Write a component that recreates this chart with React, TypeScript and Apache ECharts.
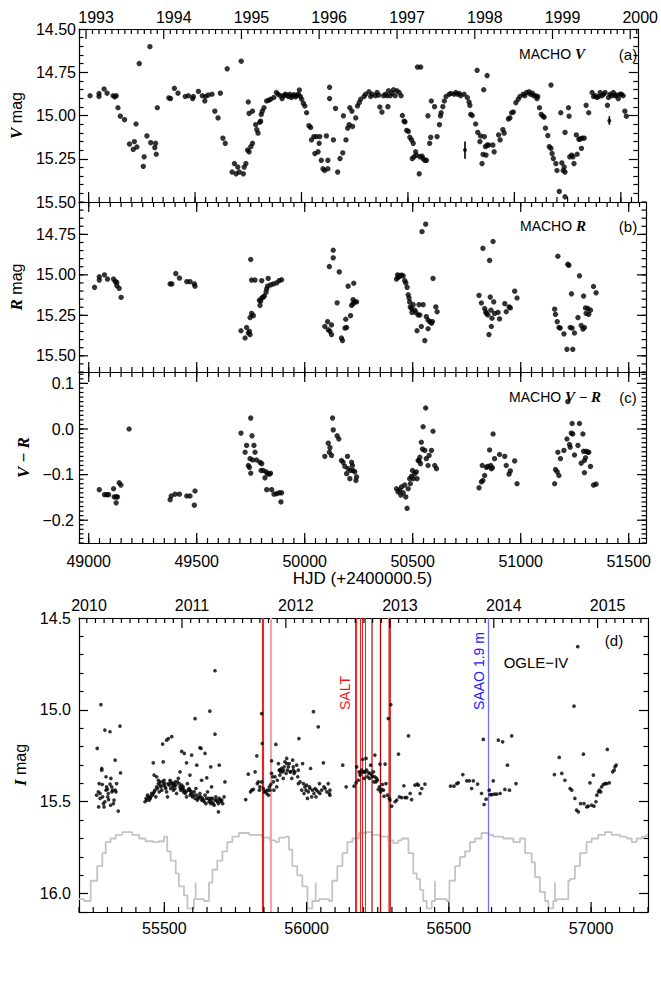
import React, { useEffect, useRef } from 'react';
import * as echarts from 'echarts';

// ---------------- DATA ----------------
// MACHO V light curve: [MJD, V mag]
const MACHO_V: [number, number][] = [
  [49007,14.886],[49049,14.873],[49049,14.890],[49073,14.847],[49087,14.871],[49115,14.886],[49123,14.892],[49130,14.886],
  [49138,14.955],[49149,15.004],[49169,15.024],[49192,15.165],[49210,15.196],[49215,15.151],[49227,15.182],[49223,15.049],
  [49238,14.700],[49261,15.239],[49257,15.294],[49274,15.118],[49288,14.602],[49292,15.157],[49311,15.186],[49315,15.161],
  [49318,15.224],[49323,14.955],
  [49377,14.898],[49385,14.902],[49403,14.843],[49420,14.871],[49454,14.890],[49469,14.886],[49489,14.902],[49492,14.890],
  [49516,14.861],[49534,14.886],[49546,14.916],[49549,14.890],[49562,14.882],[49580,14.877],[49593,14.975],[49608,15.014],
  [49619,14.871],[49631,15.131],[49642,15.161],[49651,14.730],[49674,15.327],[49685,15.278],[49693,15.337],[49701,15.298],
  [49708,15.327],[49717,14.686],[49727,15.337],[49731,15.298],[49739,15.278],[49747,15.200],[49754,15.210],[49762,15.180],
  [49770,15.161],[49750,14.922],[49754,14.988],[49770,14.975],[49785,15.053],[49790,15.082],[49796,15.102],[49804,15.039],
  [49808,15.033],[49816,14.975],[49811,14.994],[49824,14.955],[49836,14.916],[49847,14.912],[49855,14.906],[49870,14.896],
  [49882,14.867],[49890,14.877],[49901,14.886],[49909,14.902],[49916,14.886],[49924,14.877],[49930,14.882],[49938,14.890],
  [49945,14.877],[49952,14.896],[49958,14.886],[49965,14.880],[49972,14.892],[49978,14.884],[49985,14.878],[49990,14.853],
  [49995,14.890],[50001,14.906],[50009,14.930],[50016,14.945],[50024,14.984],[50035,15.059],[50043,15.069],[50047,15.141],
  [50058,15.122],[50063,15.220],[50070,15.122],[50078,15.210],[50083,15.161],[50086,15.122],[50093,15.259],[50101,15.308],
  [50109,15.318],
  [50117,15.118],[50124,15.259],[50124,15.308],[50132,14.837],[50132,14.902],[50150,15.141],[50160,14.959],[50170,15.327],
  [50181,15.249],[50194,15.216],[50197,15.002],[50209,15.141],[50217,15.073],[50224,15.053],[50227,14.955],[50237,14.975],
  [50240,15.063],[50255,15.014],[50263,14.945],[50271,14.926],[50278,14.906],[50294,14.890],[50301,14.877],[50317,14.863],
  [50325,14.890],[50332,14.877],[50348,14.886],[50355,14.867],[50363,14.882],[50368,14.951],[50378,14.980],[50386,14.886],
  [50394,14.877],[50402,14.886],[50406,14.949],[50409,14.857],[50417,14.886],[50425,14.871],[50432,14.851],[50440,14.886],
  [50448,14.857],[50459,14.867],[50468,14.886],[50474,15.000],[50482,15.033],[50486,15.037],[50494,15.086],[50502,15.092],
  [50509,15.126],[50517,15.141],[50520,15.249],[50525,15.161],[50529,15.239],[50536,15.210],[50540,15.229],[50545,14.720],
  [50560,14.720],[50553,15.337],[50556,15.239],[50566,15.235],[50571,15.249],[50579,15.259],[50587,15.259],[50594,15.002],
  [50602,15.161],[50607,15.126],[50610,14.916],[50625,14.949],[50637,15.122],[50648,15.053],[50653,15.002],[50656,14.984],
  [50664,14.949],[50671,14.916],[50679,14.890],[50694,14.877],[50702,14.873],[50717,14.877],[50725,14.867],[50733,14.877],
  [50741,14.873],[50748,14.886],[50764,14.877],[50779,14.896],[50787,14.922],[50791,14.941],[50795,14.994],[50802,15.000],
  [50818,15.049],[50825,14.739],[50828,15.098],[50838,15.151],[50841,15.118],[50848,15.278],[50853,15.225],[50856,14.851],
  [50859,15.122],[50864,15.180],[50867,15.229],[50872,14.769],[50872,15.171],[50879,15.171],[50899,15.171],[50905,15.210],
  [50926,15.112],[50933,15.141],[50946,15.082],[50952,15.102],[50972,15.020],[50979,15.014],[50987,14.984],[50995,14.980],
  [51007,14.926],[51018,14.906],[51026,14.890],[51041,14.877],[51049,14.886],[51057,14.867],[51069,14.863],[51075,14.877],
  [51084,14.871],[51090,14.886],[51100,14.886],[51106,14.902],[51110,14.890],[51118,14.955],[51126,14.994],[51134,15.004],
  [51140,15.010],[51146,15.073],[51157,15.116],[51164,15.180],[51172,14.824],[51172,15.190],[51177,15.220],[51183,15.249],
  [51195,15.278],[51200,15.318],[51211,15.439],[51218,14.984],[51223,15.274],[51229,15.318],[51234,15.298],[51238,15.098],
  [51238,15.327],[51238,15.470],[51254,14.955],[51257,15.004],[51260,15.239],[51269,15.229],[51275,15.239],[51280,15.278],
  [51291,15.112],[51295,15.224],[51303,15.137],[51308,15.137],[51315,15.190],[51318,15.131],[51328,15.131],[51337,14.941],
  [51349,14.984],
  [51365,14.867],[51372,14.890],[51380,14.886],[51388,14.896],[51396,14.890],[51403,14.867],[51411,14.886],[51419,14.877],
  [51426,14.867],[51437,14.941],[51442,14.896],[51449,14.877],[51457,14.886],[51465,14.867],[51473,14.886],[51480,14.882],
  [51488,14.902],[51496,14.877],[51503,14.877],[51511,14.886],[51519,14.975],[51526,15.004],
];
// sample error bars in panel (a): [MJD, mag, low, high]
const MACHO_V_ERR: [number, number, number, number][] = [
  [50768, 15.20, 15.15, 15.25],
  [51446, 15.03, 15.005, 15.053],
];
// MACHO R: [MJD, R mag]
const MACHO_R: [number, number][] = [
  [49027,15.077],[49049,15.012],[49049,15.032],[49073,15.000],[49087,15.026],[49115,15.026],[49123,15.042],[49130,15.046],
  [49130,15.066],[49141,15.083],[49150,15.139],
  [49377,15.056],[49385,15.056],[49403,14.992],[49420,15.020],[49454,15.042],[49469,15.042],[49489,15.056],[49492,15.070],
  [49705,15.345],[49724,15.390],[49731,15.325],[49739,15.359],[49744,15.349],[49747,15.369],[49750,14.905],[49747,15.264],
  [49754,15.238],[49762,15.252],[49754,15.032],[49770,15.032],[49793,15.188],[49796,15.163],[49801,15.143],[49808,15.137],
  [49813,15.131],[49821,15.107],[49824,15.087],[49828,15.070],[49831,15.022],[49842,15.062],[49855,15.056],[49870,15.050],
  [49882,15.036],[49893,15.030],[49801,15.036],[49790,15.157],
  [50093,15.319],[50106,15.289],[50109,15.339],[50114,14.949],
  [50117,15.349],[50124,15.369],[50124,15.309],[50132,14.848],[50132,14.895],[50160,14.982],[50150,15.173],[50170,15.390],
  [50175,15.406],[50186,15.329],[50194,15.325],[50190,15.274],[50201,15.070],[50212,15.252],[50217,15.188],[50224,15.178],
  [50227,15.052],[50232,15.167],[50240,15.167],[50224,15.153],
  [50425,15.026],[50430,15.000],[50432,15.016],[50438,15.010],[50440,15.006],[50448,15.002],[50456,15.006],[50463,15.036],
  [50468,15.050],[50474,15.077],[50479,15.123],[50483,15.143],[50486,15.167],[50489,15.198],[50494,15.208],[50497,15.232],
  [50502,15.184],[50509,15.218],[50514,15.232],[50520,15.345],[50525,15.248],[50529,15.184],[50533,15.248],[50540,15.319],
  [50543,14.733],[50548,15.184],[50556,15.406],[50560,14.687],[50563,15.258],[50571,15.279],[50579,15.289],[50587,15.299],
  [50591,15.289],[50594,15.022],[50607,15.198],[50613,15.228],[50571,15.333],
  [50807,15.127],[50818,15.174],[50825,14.836],[50833,15.208],[50838,15.228],[50841,15.238],[50848,15.248],[50853,15.369],
  [50856,14.911],[50859,15.137],[50862,15.218],[50864,15.319],[50867,15.268],[50872,14.794],[50875,15.167],[50879,15.238],
  [50895,15.232],[50902,15.272],[50926,15.178],[50933,15.228],[50946,15.198],[50952,15.204],[50972,15.101],[50983,15.143],
  [51157,15.212],[51161,15.244],[51169,15.289],[51177,15.325],[51183,15.329],[51172,14.885],[51200,15.365],[51214,15.460],
  [51218,14.935],[51223,14.941],[51229,15.325],[51235,15.117],[51238,15.329],[51241,15.460],[51249,15.359],[51265,15.264],
  [51272,15.006],[51280,15.313],[51288,15.335],[51291,15.131],[51295,15.325],[51300,15.204],[51303,15.238],[51311,15.208],
  [51315,15.244],[51323,15.218],[51337,15.072],[51349,15.111],
];
// MACHO V-R colour: [MJD, V-R]
const MACHO_VR: [number, number][] = [
  [49049,-0.133],[49073,-0.144],[49084,-0.144],[49092,-0.144],[49115,-0.131],[49118,-0.149],[49127,-0.149],[49127,-0.162],
  [49133,-0.149],[49141,-0.118],[49149,-0.123],[49187,0.000],
  [49377,-0.155],[49382,-0.147],[49400,-0.143],[49420,-0.143],[49454,-0.147],[49469,-0.147],[49489,-0.167],[49492,-0.136],
  [49705,-0.009],[49724,-0.051],[49731,-0.036],[49739,-0.080],[49744,-0.084],[49747,-0.065],[49750,0.024],[49750,-0.097],
  [49756,-0.015],[49759,-0.068],[49765,-0.036],[49770,-0.051],[49777,-0.068],[49793,-0.073],[49798,-0.091],[49801,-0.076],
  [49808,-0.091],[49816,-0.107],[49821,-0.094],[49828,-0.098],[49836,-0.099],[49842,-0.097],[49824,-0.133],[49847,-0.133],
  [49858,-0.143],[49870,-0.142],[49882,-0.140],[49890,-0.160],[49893,-0.140],
  [50093,-0.060],[50109,-0.031],[50114,-0.051],[50117,-0.041],[50129,0.024],[50132,-0.002],[50124,-0.058],[50150,-0.015],
  [50158,-0.022],[50170,-0.069],[50178,-0.073],[50186,-0.082],[50194,-0.098],[50198,-0.060],[50201,-0.087],[50209,-0.109],
  [50212,-0.091],[50217,-0.073],[50221,-0.080],[50224,-0.091],[50232,-0.094],[50240,-0.105],[50237,-0.113],
  [50425,-0.131],[50432,-0.138],[50440,-0.134],[50445,-0.145],[50448,-0.127],[50456,-0.140],[50463,-0.123],[50468,-0.149],
  [50474,-0.174],[50479,-0.131],[50486,-0.109],[50489,-0.120],[50494,-0.104],[50499,-0.091],[50502,-0.109],[50509,-0.098],
  [50517,-0.094],[50520,-0.109],[50525,-0.069],[50529,-0.070],[50533,-0.062],[50536,-0.076],[50540,-0.029],[50545,-0.044],
  [50548,0.005],[50556,-0.047],[50560,0.046],[50563,-0.065],[50571,-0.080],[50576,-0.058],[50587,-0.047],[50594,-0.005],
  [50602,-0.080],[50610,-0.087],
  [50807,-0.129],[50818,-0.116],[50825,-0.113],[50833,-0.102],[50822,-0.080],[50841,-0.084],[50848,-0.082],[50856,-0.046],
  [50861,-0.080],[50864,-0.087],[50872,-0.011],[50869,-0.085],[50879,-0.065],[50902,-0.056],[50926,-0.060],[50933,-0.080],
  [50946,-0.099],[50952,-0.092],[50972,-0.070],[50983,-0.120],
  [51157,-0.120],[51161,-0.089],[51169,-0.094],[51177,-0.102],[51172,-0.051],[51184,-0.065],[51200,-0.047],[51214,-0.022],
  [51218,0.060],[51226,-0.034],[51229,-0.040],[51234,-0.009],[51238,0.012],[51241,-0.011],[51249,-0.057],[51265,-0.036],
  [51272,0.012],[51280,-0.075],[51288,-0.011],[51291,-0.049],[51295,-0.069],[51300,-0.063],[51303,-0.049],[51311,-0.051],
  [51315,-0.051],[51323,-0.082],[51295,-0.096],[51337,-0.123],[51349,-0.121],
];
// OGLE-IV I band: [MJD, I mag]
const OGLE_I: [number, number][] = [
  [55264,15.210],[55271,15.401],[55274,15.455],[55277,14.971],[55280,15.319],[55280,15.328],[55283,15.473],[55286,15.510],
  [55288,15.528],[55291,15.110],[55295,15.437],[55297,15.419],[55301,15.473],[55303,15.455],[55309,15.119],[55312,15.373],
  [55315,15.419],[55318,15.437],[55321,15.510],[55323,15.491],[55327,15.273],[55330,15.446],[55332,15.401],[55338,15.551],
  [55344,15.088],[55346,15.343],[55311,15.519],[55268,15.446],[55274,15.482],[55291,15.500],[55304,15.488],[55316,15.446],
  [55327,15.437],[55300,15.432],[55282,15.406],[55295,15.364],[55262,15.464],[55269,15.528],[55309,15.404],
  [55461,15.288],[55464,15.355],[55494,15.186],[55496,15.283],[55508,15.165],[55514,15.156],[55526,15.146],[55561,15.226],
  [55570,15.237],[55578,15.288],[55596,15.246],[55608,15.048],[55614,15.301],[55625,15.206],[55629,15.210],[55643,15.237],
  [55649,15.370],[55660,15.007],[55663,15.310],[55678,15.132],[55678,14.787],[55693,15.301],[55713,15.392],[55690,15.555],
  [55666,15.419],[55631,15.383],[55590,15.355],[55555,15.337],[55532,15.401],[55485,15.392],[55473,15.364],[55479,15.383],
  [55432,15.500],[55438,15.491],[55444,15.473],[55450,15.482],[55455,15.455],[55458,15.464],[55461,15.455],[55464,15.446],
  [55467,15.437],[55470,15.473],[55473,15.419],[55479,15.401],[55485,15.410],[55488,15.419],[55491,15.437],[55494,15.392],
  [55499,15.383],[55502,15.401],[55505,15.428],[55508,15.446],[55511,15.473],[55517,15.410],[55520,15.383],[55523,15.392],
  [55526,15.401],[55529,15.419],[55532,15.437],[55537,15.428],[55540,15.410],[55543,15.455],[55546,15.392],[55549,15.373],
  [55555,15.419],[55558,15.437],[55561,15.410],[55564,15.428],[55567,15.446],[55573,15.455],[55578,15.473],[55581,15.401],
  [55584,15.437],[55590,15.437],[55593,15.455],[55596,15.446],[55599,15.473],[55602,15.464],[55608,15.482],[55611,15.428],
  [55616,15.491],[55625,15.455],[55628,15.473],[55634,15.482],[55637,15.491],[55640,15.500],[55643,15.464],[55646,15.510],
  [55652,15.446],[55655,15.482],[55660,15.491],[55663,15.510],[55666,15.500],[55669,15.482],[55672,15.510],[55675,15.519],
  [55681,15.473],[55684,15.491],[55690,15.510],[55696,15.491],[55699,15.500],[55705,15.510],[55710,15.473],
  [55436,15.482],[55441,15.464],[55447,15.491],[55452,15.473],[55476,15.428],[55482,15.446],[55497,15.410],[55503,15.419],
  [55514,15.401],[55522,15.428],[55534,15.410],[55538,15.392],[55552,15.401],[55557,15.428],[55566,15.419],[55570,15.437],
  [55576,15.446],[55587,15.428],[55591,15.464],[55605,15.446],[55613,15.464],[55619,15.482],[55622,15.473],[55631,15.491],
  [55648,15.482],[55657,15.500],[55663,15.482],[55678,15.491],[55687,15.500],[55693,15.482],[55702,15.491],
  [55786,15.488],[55795,15.350],[55803,15.446],[55807,15.437],[55813,15.433],[55819,15.337],[55825,15.250],[55827,15.401],
  [55830,15.392],[55834,15.437],[55836,15.419],[55842,15.392],[55842,15.020],[55844,15.183],[55848,15.428],[55851,15.446],
  [55856,15.442],[55860,15.455],[55863,15.437],[55866,15.464],[55869,15.419],[55871,15.437],[55874,15.406],[55877,15.346],
  [55877,15.277],[55881,15.364],[55883,15.392],[55885,15.437],[55889,15.364],[55892,15.188],[55895,15.419],[55897,15.383],
  [55901,15.292],[55904,15.328],[55906,15.355],[55909,15.337],[55912,15.319],[55916,15.337],[55918,15.328],[55921,15.310],
  [55924,15.283],[55928,15.346],[55930,15.264],[55932,15.328],[55936,15.310],[55939,15.292],[55942,15.337],[55944,15.337],
  [55948,15.373],[55951,15.273],[55953,15.328],[55956,15.346],[55959,15.337],[55965,15.301],[55969,15.364],[55971,15.401],
  [55973,15.156],[55977,15.392],[55983,15.437],[55986,15.292],[55989,15.401],[55991,15.455],[55994,15.419],[55998,15.437],
  [56000,15.410],[56003,15.482],[56006,15.446],[56010,15.419],[56012,15.428],[56014,15.319],[56018,15.473],[56021,15.437],
  [56024,15.010],[56026,15.455],[56030,15.428],[56033,15.473],[56035,15.437],[56041,15.092],[56041,15.446],[56045,15.401],
  [56047,15.455],[56053,15.437],[56059,15.288],[56061,15.419],[56065,15.428],[56071,15.446],[56076,15.401],[56080,15.455],
  [56082,15.437],[55971,15.328],[55953,15.310],[55930,15.292],[55918,15.373],[55906,15.328],
  [56082,15.464],[56127,15.301],[56139,15.419],[56167,15.415],[56174,15.397],[56176,15.310],[56182,15.383],[56185,15.337],
  [56188,15.355],[56190,15.343],[56194,15.328],[56197,15.270],[56200,15.337],[56202,15.373],[56205,15.337],[56209,15.264],
  [56211,15.328],[56214,15.364],[56217,15.343],[56221,15.373],[56223,15.346],[56225,15.301],[56229,15.355],[56232,15.364],
  [56235,15.337],[56237,15.392],[56240,15.246],[56240,15.364],[56244,15.392],[56246,15.373],[56249,15.383],[56252,15.433],
  [56256,15.419],[56258,15.295],[56260,15.446],[56264,15.433],[56267,15.406],[56270,15.437],[56272,15.470],[56276,15.295],
  [56279,15.401],[56284,15.464],[56287,15.047],[56291,15.482],[56293,15.491],[56296,14.971],[56299,15.524],[56311,15.500],
  [56317,15.491],[56323,15.241],[56326,15.473],[56334,15.477],[56342,15.413],[56346,15.477],[56352,15.477],[56358,15.141],
  [56364,15.455],[56369,15.488],[56381,15.410],[56389,15.404],[56393,15.410],[56399,15.455],[56405,15.428],[56416,15.404],
  [56506,15.415],[56518,15.415],[56528,15.401],[56533,15.397],[56549,15.352],[56563,15.386],[56572,15.386],[56580,15.428],
  [56586,15.386],[56601,15.404],[56615,15.455],[56621,15.161],[56624,15.515],[56631,15.486],[56642,15.437],[56645,15.461],
  [56651,15.461],[56656,15.386],[56660,15.459],[56668,15.459],[56674,15.165],[56680,15.455],[56689,15.174],[56697,15.433],
  [56706,15.301],[56713,15.437],[56721,15.141],[56736,15.401],
  [56871,15.352],[56888,15.259],[56897,15.346],[56908,15.383],[56926,15.428],[56932,15.437],[56940,14.980],[56943,15.482],
  [56949,15.546],[56955,15.555],[56963,15.510],[56973,15.241],[56975,15.510],[56985,15.528],[56990,15.524],[56996,15.397],
  [57002,15.519],[57008,15.355],[57010,15.524],[57017,15.500],[57020,15.464],[57026,15.446],[57029,15.437],[57034,15.446],
  [57037,15.419],[57043,15.406],[57049,15.401],[57055,15.401],[57057,15.215],[57064,15.397],[56953,14.656],[57076,15.337],
  [57081,15.328],[57084,15.310],[57088,15.301],
];
// model light curve (grey step curve): [MJD, I mag]
const MODEL_I: [number, number][] = [
  [55200,16.03],[55218,16.04],[55241,15.93],[55264,15.85],[55282,15.78],[55294,15.72],[55311,15.70],[55329,15.68],
  [55352,15.665],[55387,15.68],[55411,15.70],[55434,15.715],[55460,15.72],[55481,15.715],[55499,15.69],[55510,15.77],
  [55522,15.82],[55540,15.89],[55551,15.96],[55569,16.01],[55581,16.08],[55604,16.03],[55610,15.94],[55610,16.03],
  [55639,16.04],[55657,15.94],[55669,15.87],[55686,15.82],[55704,15.77],[55721,15.72],[55739,15.69],[55762,15.67],
  [55798,15.68],[55844,15.695],[55870,15.71],[55891,15.72],[55903,15.695],[55926,15.69],[55938,15.76],[55950,15.85],
  [55967,15.90],[55985,15.96],[56003,16.08],[56020,16.04],[56032,15.94],[56032,16.04],[56044,16.03],[56079,16.04],
  [56090,15.93],[56108,15.85],[56126,15.78],[56143,15.72],[56161,15.70],[56184,15.67],[56211,15.665],[56229,15.68],
  [56258,15.69],[56287,15.71],[56305,15.725],[56322,15.71],[56334,15.70],[56358,15.78],[56375,15.89],[56387,15.92],
  [56399,15.98],[56410,16.04],[56422,16.08],[56440,16.04],[56451,15.93],[56451,16.03],[56492,16.04],[56502,15.93],
  [56522,15.85],[56539,15.80],[56557,15.77],[56574,15.72],[56592,15.70],[56615,15.67],[56639,15.68],[56656,15.69],
  [56692,15.70],[56727,15.72],[56750,15.70],[56768,15.78],[56791,15.83],[56803,15.91],[56820,15.99],[56838,16.04],
  [56850,16.08],[56867,16.04],[56873,15.94],[56873,16.04],[56879,16.03],[56920,15.93],[56926,15.92],[56943,15.85],
  [56961,15.78],[56984,15.72],[57002,15.70],[57025,15.68],[57049,15.665],[57072,15.68],[57102,15.69],[57125,15.70],
  [57143,15.72],[57160,15.70],[57178,15.69],[57195,15.68],[57200,15.68],
];
// epochs of SALT spectra and of the SAAO 1.9 m observation (MJD)
const SALT_MJD = [55845, 55873, 56173, 56176, 56188, 56196, 56205, 56230, 56258, 56289, 56293];
const SAAO_MJD = [56640];

// axis ticks
const YEARS_A = [1993, 1994, 1995, 1996, 1997, 1998, 1999, 2000];
const YEAR_START_A = [48988, 49353, 49718, 50083, 50449, 50814, 51179, 51544];
const YEARS_D = [2010, 2011, 2012, 2013, 2014, 2015];
const YEAR_START_D = [55197, 55562, 55927, 56293, 56658, 57023];
const HJD_TICKS_A = [49000, 49500, 50000, 50500, 51000, 51500];
const HJD_TICKS_D = [55500, 56000, 56500, 57000];
const V_TICKS = [14.5, 14.75, 15.0, 15.25, 15.5];
const R_TICKS = [14.75, 15.0, 15.25, 15.5];
const VR_TICKS = [-0.2, -0.1, 0.0, 0.1];
const I_TICKS = [14.5, 15.0, 15.5, 16.0];

// ---------------- STYLE / LAYOUT ----------------
const FONT = "'Liberation Sans', Arial, Helvetica, sans-serif";
const SERIF = "'Liberation Serif', 'Times New Roman', serif";
const BLACK = '#000';
const AX_LINE = { color: BLACK, width: 1.2 };
const SALT_STYLE = [
  { color: '#d42a2a', width: 2.2 },
  { color: '#f2a3a3', width: 2.2 },
  { color: '#d42a2a', width: 2 },
  { color: '#e03a3a', width: 1.4 },
  { color: '#e02a2a', width: 1.1 },
  { color: '#e02a2a', width: 1.1 },
  { color: '#e02a2a', width: 1.1 },
  { color: '#d84040', width: 1.6 },
  { color: '#b00000', width: 1.3 },
  { color: '#e88a8a', width: 3.2 },
  { color: '#cc1a1a', width: 1.5 },
];

const GRIDS = [
  { left: 79, top: 29, width: 567, height: 173 },
  { left: 79, top: 202, width: 567, height: 170 },
  { left: 79, top: 372, width: 567, height: 171 },
  { left: 79, top: 618, width: 569, height: 294 },
];
const XA = [48955, 51580];
const XD = [55200, 57200];

function seq(a: number, b: number, s: number): number[] {
  const out: number[] = [];
  for (let i = 0; a + i * s <= b + 1e-9; i++) out.push(Math.round((a + i * s) * 1000) / 1000);
  return out;
}
function months(starts: number[], prev: number, next: number): number[] {
  const all = [prev, ...starts, next];
  const out: number[] = [];
  for (let i = 0; i < all.length - 1; i++) {
    for (let k = 1; k < 12; k++) out.push(all[i] + (k * (all[i + 1] - all[i])) / 12);
  }
  return out;
}
const yearFmt = (starts: number[], years: number[]) => (v: number) => {
  for (let i = 0; i < starts.length; i++) if (Math.abs(starts[i] - v) < 5) return String(years[i]);
  return '';
};

type AxOpt = {
  grid: number; pos: string; min: number; max: number; inverse?: boolean;
  labels?: number[]; fmt?: (v: number) => string; margin?: number; padding?: number[];
  name?: string; nameGap?: number; nameSize?: number; rich?: any;
  native?: { interval: number; split: number };
};
function ax(o: AxOpt) {
  const native = o.native;
  return {
    type: 'value', gridIndex: o.grid, position: o.pos, min: o.min, max: o.max, inverse: !!o.inverse,
    ...(native ? { interval: native.interval } : {}),
    splitLine: { show: false }, splitArea: { show: false },
    axisLine: { show: true, onZero: false, lineStyle: AX_LINE },
    axisTick: native
      ? { show: true, inside: true, length: 9, lineStyle: AX_LINE }
      : { show: false },
    minorTick: native
      ? { show: true, splitNumber: native.split, length: 4.5, lineStyle: AX_LINE }
      : { show: false },
    axisLabel: o.labels
      ? { show: true, customValues: o.labels, formatter: o.fmt, margin: o.margin ?? 8, color: BLACK,
          fontSize: 16, fontFamily: FONT, padding: o.padding ?? 0 }
      : { show: false },
    name: o.name ?? '', nameLocation: 'middle', nameGap: o.nameGap ?? 0,
    nameTextStyle: { color: BLACK, fontSize: o.nameSize ?? 16, fontFamily: FONT, rich: o.rich },
    axisPointer: { show: false },
  };
}

const RICH = {
  i: { fontFamily: SERIF, fontStyle: 'italic', fontWeight: 'bold', fontSize: 17, color: BLACK },
  s: { fontFamily: FONT, fontSize: 16, color: BLACK },
};
const fmt2 = (v: number) => v.toFixed(2);
const fmt1 = (v: number) => v.toFixed(1);
const fmtVR = (v: number) => (Math.abs(v) < 1e-9 ? '0.0' : (v < 0 ? '\u2212' : '') + Math.abs(v).toFixed(1));
const fmtInt = (v: number) => String(Math.round(v));

const MAJ = 10, MIN = 5, YMAJ = 9, YMIN = 4.5, TW = 1.2;
const Y_PANELS = [
  { min: 14.5, max: 15.5, inv: true, major: V_TICKS, minor: seq(14.5, 15.5, 0.05), fmt: fmt2, margin: 3,
    name: '{i|V}{s| mag}', gap: 54, native: { interval: 0.25, split: 5 } },
  { min: 14.55, max: 15.6, inv: true, major: R_TICKS, minor: seq(14.55, 15.6, 0.05), fmt: fmt2, margin: 3,
    name: '{i|R}{s| mag}', gap: 53, native: undefined },
  { min: -0.25, max: 0.125, inv: false, major: VR_TICKS, minor: seq(-0.25, 0.12, 0.01), fmt: fmtVR, margin: 5,
    name: '{i|V}{s| \u2212 }{i|R}', gap: 46, native: undefined },
  { min: 14.5, max: 16.1, inv: true, major: I_TICKS, minor: seq(14.5, 16.1, 0.1), fmt: fmt1, margin: 8,
    name: '{i|I}{s| mag}', gap: 45, native: { interval: 0.5, split: 5 } },
];
function xTickSets(g: number) {
  const isD = g === 3;
  const major = isD ? HJD_TICKS_D : HJD_TICKS_A;
  const minor = isD ? seq(55200, 57200, 50) : seq(49000, 51550, 50);
  let topMajor = major, topMinor = minor;
  if (g === 0) { topMajor = YEAR_START_A; topMinor = months(YEAR_START_A, 48622, 51910); }
  if (isD) { topMajor = YEAR_START_D; topMinor = months(YEAR_START_D, 54832, 57388); }
  return { major, minor, topMajor, topMinor };
}

// Tick marks drawn as thin rectangle symbols of scatter series, placed through the axes' scales.
function tickSeries(g: number): any[] {
  const xr = g === 3 ? XD : XA;
  const p = Y_PANELS[g];
  const t = xTickSets(g);
  const inX = (v: number) => v >= xr[0] - 1e-9 && v <= xr[1] + 1e-9;
  const inY = (v: number) => v >= p.min - 1e-9 && v <= p.max + 1e-9;
  const yBottom = p.inv ? p.max : p.min;
  const yTop = p.inv ? p.min : p.max;
  const base = { type: 'scatter', xAxisIndex: 2 * g, yAxisIndex: 2 * g, symbol: 'rect', silent: true, clip: false,
    z: 8, itemStyle: { color: BLACK, opacity: 1 }, emphasis: { disabled: true } };
  const mk = (data: number[][], size: number[], offset: number[]) => ({ ...base, data, symbolSize: size, symbolOffset: offset });
  const out = [
    mk(t.major.filter(inX).map((v) => [v, yBottom]), [TW, MAJ], [0, -MAJ / 2]),
    mk(t.minor.filter(inX).map((v) => [v, yBottom]), [TW, MIN], [0, -MIN / 2]),
    mk(t.topMajor.filter(inX).map((v) => [v, yTop]), [TW, MAJ], [0, MAJ / 2]),
    mk(t.topMinor.filter(inX).map((v) => [v, yTop]), [TW, MIN], [0, MIN / 2]),
  ];
  if (!p.native) {
    out.push(
      mk(p.major.filter(inY).map((v) => [xr[0], v]), [YMAJ, TW], [YMAJ / 2, 0]),
      mk(p.minor.filter(inY).map((v) => [xr[0], v]), [YMIN, TW], [YMIN / 2, 0]),
      mk(p.major.filter(inY).map((v) => [xr[1], v]), [YMAJ, TW], [-YMAJ / 2, 0]),
      mk(p.minor.filter(inY).map((v) => [xr[1], v]), [YMIN, TW], [-YMIN / 2, 0]),
    );
  }
  return out;
}

function buildOption() {
  const xAxis: any[] = [];
  const yAxis: any[] = [];
  const ticks: any[] = [];
  for (let g = 0; g < 4; g++) {
    const isD = g === 3;
    const xr = isD ? XD : XA;
    const p = Y_PANELS[g];
    const t = xTickSets(g);
    xAxis.push(ax({ grid: g, pos: 'bottom', min: xr[0], max: xr[1],
      labels: g >= 2 ? t.major : undefined, fmt: fmtInt, margin: isD ? 8 : 10,
      name: g === 2 ? 'HJD (+2400000.5)' : '', nameGap: 27, nameSize: 17 }));
    if (g === 0) {
      xAxis.push(ax({ grid: g, pos: 'top', min: xr[0], max: xr[1],
        labels: YEAR_START_A, fmt: yearFmt(YEAR_START_A, YEARS_A), margin: 4, padding: [0, 0, 0, 20] }));
    } else if (isD) {
      const lab = YEAR_START_D.map((m) => Math.max(m, XD[0]));
      xAxis.push(ax({ grid: g, pos: 'top', min: xr[0], max: xr[1],
        labels: lab, fmt: yearFmt(YEAR_START_D, YEARS_D), margin: 5, padding: [0, 0, 0, 20] }));
    } else {
      xAxis.push(ax({ grid: g, pos: 'top', min: xr[0], max: xr[1] }));
    }
    yAxis.push(ax({ grid: g, pos: 'left', min: p.min, max: p.max, inverse: p.inv,
      labels: p.major, fmt: p.fmt, margin: p.margin, name: p.name, nameGap: p.gap, rich: RICH, native: p.native }));
    yAxis.push(ax({ grid: g, pos: 'right', min: p.min, max: p.max, inverse: p.inv, native: p.native }));
    ticks.push(...tickSeries(g));
  }

  const dot = (size: number) => ({ type: 'scatter', symbol: 'circle', symbolSize: size, itemStyle: { color: BLACK }, silent: true, z: 3 });

  const series: any[] = [
    { ...dot(5.4), xAxisIndex: 0, yAxisIndex: 0, data: MACHO_V },
    ...MACHO_V_ERR.map(([m, , lo, hi]) => ({
      type: 'line', xAxisIndex: 0, yAxisIndex: 0, data: [[m, lo], [m, hi]], symbol: 'none',
      lineStyle: { color: BLACK, width: 1.6 }, silent: true, z: 3,
    })),
    { ...dot(4), xAxisIndex: 0, yAxisIndex: 0, data: MACHO_V_ERR.map(([m, v]) => [m, v]) },
    { ...dot(5.4), xAxisIndex: 2, yAxisIndex: 2, data: MACHO_R },
    { ...dot(5.4), xAxisIndex: 4, yAxisIndex: 4, data: MACHO_VR },
    {
      type: 'line', xAxisIndex: 6, yAxisIndex: 6, data: MODEL_I, step: 'end', symbol: 'none', silent: true, z: 1,
      lineStyle: { color: '#c4c4c4', width: 1.8 },
      markLine: {
        silent: true, symbol: ['none', 'none'], label: { show: false }, z: 2, animation: false,
        data: [
          ...SALT_MJD.map((m, i) => ({ xAxis: m, lineStyle: { type: 'solid', ...SALT_STYLE[i] } })),
          ...SAAO_MJD.map((m) => ({ xAxis: m, lineStyle: { type: 'solid', color: '#6f6fff', width: 1.3 } })),
        ],
      },
    },
    { ...dot(3.7), xAxisIndex: 6, yAxisIndex: 6, data: OGLE_I, z: 4 },
    ...ticks,
  ];

  const txt = (x: number, y: number, text: string, size: number, align = 'center', color = BLACK, extra: any = {}) => ({
    type: 'text', x, y, silent: true, z: 10,
    style: { text, fontSize: size, fontFamily: FONT, fill: color, textAlign: align, textVerticalAlign: 'middle', ...extra },
  });
  const richLabel = {
    s: { fontFamily: FONT, fontSize: 14, fill: BLACK, color: BLACK },
    i: { fontFamily: SERIF, fontSize: 15, fontStyle: 'italic', fontWeight: 'bold', fill: BLACK, color: BLACK },
  };
  const graphic = [
    txt(585, 54, '{s|MACHO }{i|V}', 14, 'right', BLACK, { rich: richLabel }),
    txt(628, 54, '(a)', 15),
    txt(586, 226, '{s|MACHO }{i|R}', 14, 'right', BLACK, { rich: richLabel }),
    txt(628, 226, '(b)', 15),
    txt(601, 397, '{s|MACHO }{i|V}{s| \u2212 }{i|R}', 14, 'right', BLACK, { rich: richLabel }),
    txt(628, 397, '(c)', 15),
    txt(614, 640, '(d)', 15),
    txt(536, 662, 'OGLE\u2212IV', 15),
    { ...txt(345, 693, 'SALT', 14, 'center', '#f01c1c'), rotation: Math.PI / 2 },
    { ...txt(479, 671, 'SAAO 1.9 m', 14, 'center', '#2020ff'), rotation: Math.PI / 2 },
  ];

  return {
    animation: false,
    backgroundColor: '#fff',
    grid: GRIDS.map((gr) => ({ ...gr, show: false })),
    xAxis,
    yAxis,
    series,
    graphic,
  };
}

export default function App() {
  const ref = useRef<HTMLDivElement>(null);
  useEffect(() => {
    if (!ref.current) return;
    const chart = echarts.init(ref.current, null, { renderer: 'svg' });
    chart.setOption(buildOption() as any);
    return () => chart.dispose();
  }, []);
  return <div ref={ref} style={{ position: 'absolute', left: 0, top: 0, width: 661, height: 992 }} />;
}
